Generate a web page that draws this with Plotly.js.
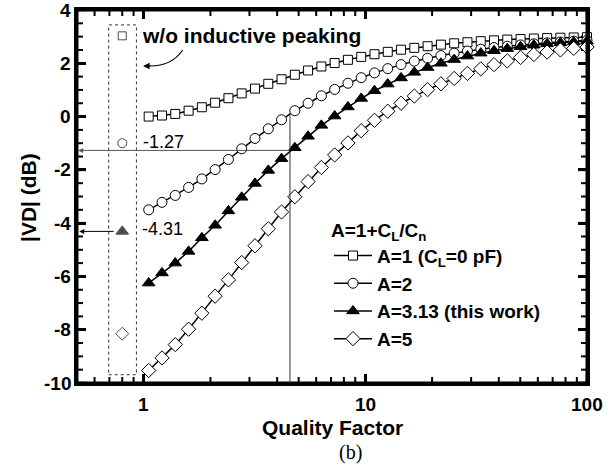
<!DOCTYPE html>
<html>
<head>
<meta charset="utf-8">
<script src="https://cdn.plot.ly/plotly-3.0.1.min.js"></script>
<style>
  html, body { margin: 0; padding: 0; background: #fff; }
  #chart { width: 613px; height: 472px; }
</style>
</head>
<body>
<div id="chart"></div>
<script>
// ---- data ----
const qualityFactor = [1.053, 1.209, 1.388, 1.594, 1.829, 2.100, 2.411, 2.767, 3.177, 3.647,
  4.186, 4.806, 5.516, 6.333, 7.269, 8.344, 9.579, 10.996, 12.62, 14.49,
  16.63, 19.09, 21.92, 25.16, 28.88, 33.16, 38.06, 43.69, 50.15, 57.57,
  66.08, 75.86, 87.10, 100.0];

const vdA1 = [0.00, 0.04, 0.10, 0.22, 0.35, 0.52, 0.69, 0.87, 1.05, 1.23,
  1.40, 1.57, 1.73, 1.88, 2.01, 2.13, 2.24, 2.34, 2.43, 2.51,
  2.58, 2.64, 2.70, 2.75, 2.79, 2.83, 2.86, 2.89, 2.91, 2.93,
  2.95, 2.96, 2.97, 2.98];

const vdA2 = [-3.50, -3.22, -2.96, -2.66, -2.34, -1.99, -1.61, -1.21, -0.82, -0.46,
  -0.12, 0.22, 0.50, 0.78, 1.02, 1.25, 1.46, 1.64, 1.80, 1.95,
  2.08, 2.19, 2.29, 2.38, 2.46, 2.53, 2.59, 2.64, 2.69, 2.73,
  2.77, 2.80, 2.83, 2.86];

const vdA313 = [-6.25, -5.87, -5.50, -5.06, -4.55, -4.08, -3.54, -3.03, -2.51, -2.02,
  -1.58, -1.17, -0.74, -0.33, 0.02, 0.36, 0.68, 0.97, 1.22, 1.45,
  1.66, 1.84, 2.00, 2.14, 2.27, 2.38, 2.47, 2.55, 2.62, 2.68,
  2.73, 2.77, 2.80, 2.83];

const vdA5 = [-9.53, -9.06, -8.56, -7.98, -7.38, -6.74, -6.13, -5.48, -4.85, -4.21,
  -3.58, -3.01, -2.44, -1.91, -1.44, -0.99, -0.53, -0.14, 0.20, 0.50,
  0.77, 1.01, 1.23, 1.43, 1.62, 1.79, 1.95, 2.09, 2.22, 2.33,
  2.42, 2.50, 2.56, 2.61];

const seriesNames = ['A=1 (C<sub>L</sub>=0 pF)', 'A=2', 'A=3.13 (this work)', 'A=5'];
const legendTitle = 'A=1+C<sub>L</sub>/C<sub>n</sub>';
const xTitle = 'Quality Factor';
const yTitle = '|VD| (dB)';
const peakNote = 'w/o inductive peaking';
const caption = '(b)';

// values without inductive peaking (dashed box)
const noPeakQ = [0.8, 0.8, 0.8, 0.8];
const noPeakVD = [3.03, -1.00, -4.31, -8.15];

// marked operating point
const markQ = 4.57;
const markVD = -1.27;
const markTopVD = 0.05;
const label127 = '-1.27';
const label431 = '-4.31';
const noPeakVD313 = -4.31;

// dashed box extent
const boxQ = [0.695, 0.927];
const boxVD = [-9.69, 3.44];

// axis extents and ticks
const xLimits = [0.5, 100];
const yLimits = [-10, 4];
const xTickVals = [1, 10, 100];
const xTickText = ['1', '10', '100'];
const xMinorVals = [0.6, 0.7, 0.8, 0.9, 2, 3, 4, 5, 6, 7, 8, 9, 20, 30, 40, 50, 60, 70, 80, 90];
const yTickVals = [-10, -8, -6, -4, -2, 0, 2, 4];
const yTickText = ['-10', '-8', '-6', '-4', '-2', '0', '2', '4'];
const yMinorVals = [-9.5, -9, -8.5, -7.5, -7, -6.5, -5.5, -5, -4.5, -3.5, -3, -2.5,
  -1.5, -1, -0.5, 0.5, 1, 1.5, 2.5, 3, 3.5];

// ---- styling ----
const FONT = 'Liberation Sans, Arial, Helvetica, sans-serif';
const bold = s => '<b>' + s + '</b>';
const markerStyles = [
  {symbol: 'square', size: 9, color: '#ffffff', line: {color: '#000', width: 1}},
  {symbol: 'circle', size: 10, color: '#ffffff', line: {color: '#000', width: 1}},
  {symbol: 'triangle-up', size: 11, color: '#000000', line: {color: '#000', width: 1}},
  {symbol: 'diamond', size: 11, color: '#ffffff', line: {color: '#000', width: 1}}
];
const allSeries = [vdA1, vdA2, vdA313, vdA5];

// plot-area geometry (pixels)
const PL = 77, PR = 587, PT = 10, PB = 383;
const px = v => (v - PL) / (PR - PL);
const py = v => (PB - v) / (PB - PT);
const xRange = [Math.log10(xLimits[0]), Math.log10(xLimits[1])];
const yRange = yLimits.slice();

// tick marks drawn as lines on the axis scales (inside, all four sides)
const yPerPx = (yRange[1] - yRange[0]) / (PB - PT);
const logPerPx = (xRange[1] - xRange[0]) / (PR - PL);
function tickTrace(xVals, yVals, lenPx, width) {
  const xs = [], ys = [];
  const dy = lenPx * yPerPx, fx = Math.pow(10, lenPx * logPerPx);
  xVals.forEach(v => {
    xs.push(v, v, null, v, v, null);
    ys.push(yLimits[0], yLimits[0] + dy, null, yLimits[1], yLimits[1] - dy, null);
  });
  yVals.forEach(v => {
    xs.push(xLimits[0], xLimits[0] * fx, null, xLimits[1], xLimits[1] / fx, null);
    ys.push(v, v, null, v, v, null);
  });
  return {x: xs, y: ys, type: 'scatter', mode: 'lines', showlegend: false, hoverinfo: 'skip',
    line: {color: '#000', width: width}, connectgaps: false};
}

const traces = [
  tickTrace(xTickVals, yTickVals, 9, 2.5),
  tickTrace(xMinorVals, yMinorVals, 6, 2)
];

allSeries.forEach((ys, i) => traces.push({
  x: qualityFactor, y: ys, type: 'scatter', mode: 'lines+markers',
  name: bold(seriesNames[i]),
  line: {color: '#000', width: 1.5},
  marker: markerStyles[i],
  cliponaxis: false
}));

traces.push({
  x: noPeakQ, y: noPeakVD, type: 'scatter', mode: 'markers', showlegend: false,
  marker: {
    symbol: ['square', 'circle', 'triangle-up', 'diamond'],
    size: [8, 9, 11, 10],
    color: ['#fff', '#fff', '#000', '#fff'],
    line: {color: '#000', width: 1}
  }
});

// tick labels
const labelFont = {family: FONT, size: 19, color: '#000'};
const tickLabels = [];
xTickVals.forEach((v, i) => tickLabels.push({
  xref: 'x', yref: 'paper', x: Math.log10(v), y: py(404), xanchor: 'center', yanchor: 'middle',
  showarrow: false, text: bold(xTickText[i]), font: labelFont
}));
yTickVals.forEach((v, i) => tickLabels.push({
  xref: 'paper', yref: 'y', x: px(73), y: v, xanchor: 'right', yanchor: 'middle',
  showarrow: false, text: bold(yTickText[i]), font: labelFont
}));

// native axes: frame line plus inside major ticks (labels drawn above as bold text)
const axisStyle = {
  showticklabels: false, ticks: 'inside', ticklen: 9, tickwidth: 2.5, tickcolor: '#000',
  showline: true, linewidth: 3, linecolor: '#000', mirror: 'allticks',
  showgrid: false, zeroline: false, tickmode: 'array'
};

const layout = {
  width: 613, height: 472,
  margin: {l: PL, r: 613 - PR, t: PT, b: 472 - PB},
  paper_bgcolor: '#fff', plot_bgcolor: '#fff',
  font: {family: FONT, color: '#000', size: 19},
  showlegend: true,
  legend: {
    x: px(329), y: py(212), xanchor: 'left', yanchor: 'top',
    bgcolor: 'rgba(0,0,0,0)',
    font: {family: FONT, size: 19, color: '#000'},
    title: {text: bold(legendTitle), font: {family: FONT, size: 19, color: '#000'}},
    traceorder: 'normal', tracegroupgap: 0, itemwidth: 38
  },
  xaxis: Object.assign({type: 'log', range: xRange, tickvals: xTickVals}, axisStyle),
  yaxis: Object.assign({range: yRange, tickvals: yTickVals}, axisStyle),
  shapes: [
    // frame on top of everything
    {type: 'rect', xref: 'paper', yref: 'paper', x0: 0, x1: 1, y0: 0, y1: 1, layer: 'above',
     line: {color: '#000', width: 3}},
    {type: 'rect', xref: 'x', yref: 'y', x0: boxQ[0], x1: boxQ[1], y0: boxVD[0], y1: boxVD[1],
     line: {color: '#333', width: 1, dash: 'dot'}},
    {type: 'line', xref: 'x', yref: 'y', x0: markQ, x1: markQ, y0: yRange[0], y1: markTopVD,
     line: {color: '#333', width: 1}},
    {type: 'path', xref: 'paper', yref: 'paper',
     path: `M${px(182.7)},${py(50)} Q${px(172)},${py(66)} ${px(150)},${py(66)}`,
     line: {color: '#000', width: 1.2}}
  ],
  annotations: [
    {xref: 'x', yref: 'y', x: xRange[0] + 0.005, y: markVD, ax: 212, ay: 0,
     showarrow: true, arrowhead: 2, arrowsize: 1, arrowwidth: 1, arrowcolor: '#555', text: ''},
    {xref: 'x', yref: 'y', x: xRange[0] + 0.01, y: noPeakVD313, ax: 36, ay: 0,
     showarrow: true, arrowhead: 2, arrowsize: 1, arrowwidth: 1, arrowcolor: '#000', text: ''},
    {xref: 'paper', yref: 'paper', x: px(143), y: py(66), ax: 9, ay: 0,
     showarrow: true, arrowhead: 2, arrowsize: 1.1, arrowwidth: 1.2, arrowcolor: '#000', text: ''},
    {xref: 'paper', yref: 'paper', x: px(140), y: py(35), xanchor: 'left', yanchor: 'middle',
     showarrow: false, text: bold(peakNote), font: {family: FONT, size: 21, color: '#000'}},
    {xref: 'paper', yref: 'paper', x: px(141), y: py(142), xanchor: 'left', yanchor: 'middle',
     showarrow: false, text: label127, font: {family: FONT, size: 18, color: '#000'}},
    {xref: 'paper', yref: 'paper', x: px(140), y: py(229), xanchor: 'left', yanchor: 'middle',
     showarrow: false, text: label431, font: {family: FONT, size: 18, color: '#000'}},
    {xref: 'paper', yref: 'paper', x: px(332), y: py(427), xanchor: 'center', yanchor: 'middle',
     showarrow: false, text: bold(xTitle), font: {family: FONT, size: 21, color: '#000'}},
    {xref: 'paper', yref: 'paper', x: px(28), y: py(198), xanchor: 'center', yanchor: 'middle',
     textangle: -90, showarrow: false, text: bold(yTitle), font: {family: FONT, size: 21, color: '#000'}},
    {xref: 'paper', yref: 'paper', x: px(350), y: py(453), xanchor: 'center', yanchor: 'middle',
     showarrow: false, text: caption, font: {family: 'Liberation Serif, Times New Roman, serif', size: 20, color: '#000'}}
  ].concat(tickLabels)
};

Plotly.newPlot('chart', traces, layout, {displayModeBar: false});
</script>
</body>
</html>
